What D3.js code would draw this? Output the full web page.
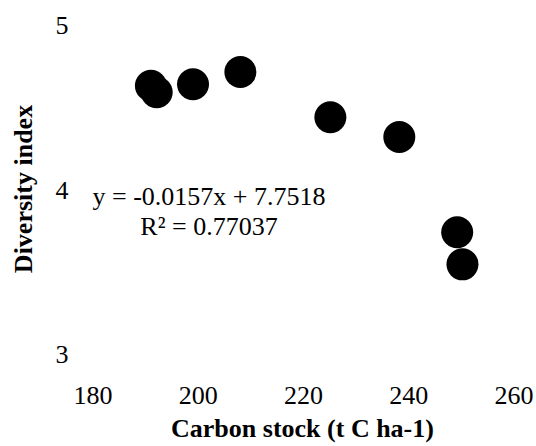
<!DOCTYPE html>
<html>
<head>
<meta charset="utf-8">
<script src="https://cdn.jsdelivr.net/npm/d3@7"></script>
<style>
  body { margin: 0; background: #fff; }
  text { font-family: "Liberation Serif", "Times New Roman", serif; fill: #000; }
</style>
</head>
<body>
<div id="chart"></div>
<script>
// data
var carbon = [191.1, 192.2, 199.1, 208.1, 225.2, 238.3, 249.3, 250.3]
var diversity = [4.634, 4.594, 4.643, 4.717, 4.442, 4.322, 3.743, 3.548]
var xTicks = [180, 200, 220, 240, 260]
var yTicks = [3, 4, 5]
var equation = ["y = -0.0157x + 7.7518", "R\u00b2 = 0.77037"]

var width = 536,
    height = 446

var svg = d3.select("#chart")
  .append("svg")
    .attr("width", width)
    .attr("height", height)

var x = d3.scaleLinear()
  .domain([180, 260])
  .range([92.5, 513.5])

var y = d3.scaleLinear()
  .domain([3, 5])
  .range([354.5, 25.5])

// x axis labels (no line, no ticks)
var xAxis = svg.append("g")
  .attr("transform", "translate(0,404)")
  .call(d3.axisBottom(x).tickValues(xTicks).tickSize(0).tickFormat(d3.format("d")))
  .attr("font-family", null)
  .attr("font-size", null)
xAxis.select(".domain").remove()
xAxis.selectAll("text")
  .attr("y", 0)
  .attr("dy", 0)
  .attr("font-size", 26)

// y axis labels
var yAxis = svg.append("g")
  .attr("transform", "translate(62,0)")
  .call(d3.axisLeft(y).tickValues(yTicks).tickSize(0).tickFormat(d3.format("d")))
  .attr("font-family", null)
  .attr("font-size", null)
yAxis.select(".domain").remove()
yAxis.selectAll("text")
  .attr("x", 0)
  .attr("dy", "0.32em")
  .attr("text-anchor", "middle")
  .attr("font-size", 26)

// points
svg.append("g")
  .selectAll("circle")
  .data(carbon)
  .enter()
  .append("circle")
    .attr("cx", function(d) { return x(d) })
    .attr("cy", function(d, i) { return y(diversity[i]) })
    .attr("r", 16)
    .attr("fill", "#000")

// trendline equation
svg.append("g")
  .selectAll("text")
  .data(equation)
  .enter()
  .append("text")
    .attr("x", 209)
    .attr("y", function(d, i) { return 205 + i * 30 })
    .attr("text-anchor", "middle")
    .attr("font-size", 26)
    .text(function(d) { return d })

// axis titles
svg.append("text")
  .attr("x", 302.5)
  .attr("y", 437)
  .attr("text-anchor", "middle")
  .attr("font-size", 26)
  .attr("font-weight", "bold")
  .text("Carbon stock (t C ha-1)")

svg.append("text")
  .attr("transform", "translate(32,189) rotate(-90)")
  .attr("text-anchor", "middle")
  .attr("font-size", 26)
  .attr("font-weight", "bold")
  .text("Diversity index")
</script>
</body>
</html>
